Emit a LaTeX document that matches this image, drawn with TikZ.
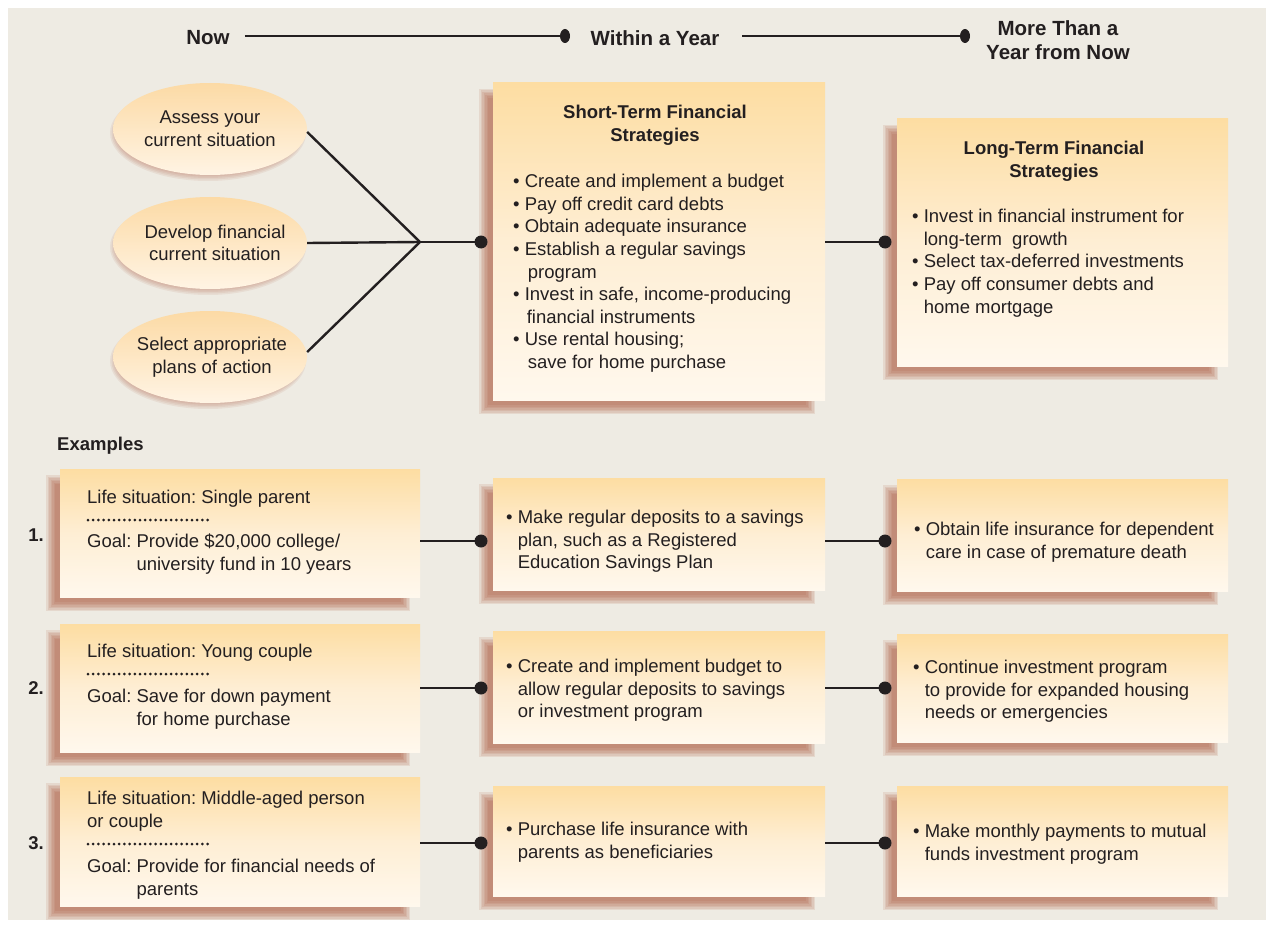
\documentclass[tikz,border=0pt]{standalone}
\usepackage{fontspec}
\setmainfont{Liberation Sans}
\usetikzlibrary{shapes.geometric,fit}
\frenchspacing
\definecolor{bg}{RGB}{238,235,227}
\definecolor{boxtop}{RGB}{253,221,162}
\definecolor{boxmid}{RGB}{254,238,212}
\definecolor{boxbot}{RGB}{255,248,237}
\definecolor{elltop}{RGB}{252,218,165}
\definecolor{ellbot}{RGB}{255,244,228}
\definecolor{shadowc}{RGB}{170,80,52}
\definecolor{ink}{RGB}{35,31,32}
\tikzset{
  box/.style={rectangle, inner sep=0pt, draw=none, top color=boxtop, bottom color=boxbot, middle color=boxmid},
  ell/.style={ellipse, inner sep=0pt, draw=none, minimum width=194pt, minimum height=92pt,
    top color=elltop, bottom color=ellbot},
  etxt/.style={font=\fontsize{18.5}{22.6}\selectfont, text=ink, inner sep=0pt, align=center},
  txt/.style={font=\fontsize{18.5}{22.6}\selectfont, text=ink, inner sep=0pt, align=left, anchor=north west},
  ttl/.style={font=\fontsize{18.5}{22.6}\selectfont\bfseries, text=ink, inner sep=0pt, align=center, anchor=north},
  hdr/.style={font=\fontsize{20.5}{24}\selectfont\bfseries, text=ink, inner sep=0pt, align=center},
  conn/.style={line width=2.4pt, draw=ink},
  dotrow/.style={line width=3pt, draw=ink, dash pattern=on 0pt off 5.2pt, line cap=round},
}
\newcommand\shbox[5]{%
  \foreach \i in {0,1.5,...,9}{\fill[shadowc,opacity=0.12] ({#2-14+\i},{#3+6+\i}) rectangle ({#4-10-\i},{#5+14-\i});}
  \coordinate (#1-nw) at (#2,#3); \coordinate (#1-se) at (#4,#5);
  \node[box, fit=(#1-nw)(#1-se)] (#1) {};
}
\newcommand\shell[5]{%
  \foreach \i in {0,1.5,...,6}{\fill[shadowc,opacity=0.09] ({#2-2},{#3+4}) ellipse [x radius={97pt+1pt-\i pt}, y radius={46pt+2pt-\i pt}];}
  \node[ell] (#1) at (#2,#3) {};
  \node[etxt] (#1t) at (#4,#3) {#5};
}
\newcommand\ind{\hphantom{\textbullet\ }}
\newcommand\gind{\hphantom{Goal: }}
\begin{document}
\begin{tikzpicture}[x=1pt,y=-1pt]
\useasboundingbox (0,0) rectangle (1266,928);
\fill[white] (0,0) rectangle (1266,928);
\fill[bg] (8,8) rectangle (1266,920);

% header
\node[hdr] (now) at (208,38) {Now};
\node[hdr] (wy) at (655,38) {Within a Year};
\node[hdr] (mty) at (1058,40) {More Than a\\Year from Now};
\coordinate (h1) at (565,36);
\coordinate (h2) at (965,36);
\draw[conn] ([xshift=15pt]now.east |- h1) -- (h1);
\draw[conn] ([xshift=23pt]wy.east |- h2) -- (h2);
\fill[ink] (h1) ellipse [x radius=5pt, y radius=7pt];
\fill[ink] (h2) ellipse [x radius=5pt, y radius=7pt];

% ellipses
\shell{e1}{210}{129}{210}{Assess your\\current situation}
\shell{e2}{210}{243}{215}{Develop financial\\current situation}
\shell{e3}{210}{357}{212}{Select appropriate\\plans of action}

% strategy boxes
\shbox{st}{493}{83}{825}{400}
\shbox{lt}{897}{119}{1228}{366}

\node[ttl] (sttl) at (655,105) {Short-Term Financial\\Strategies};
\node[txt] (stx) at (513,174) {\textbullet\ Create and implement a budget\\
\textbullet\ Pay off credit card debts\\
\textbullet\ Obtain adequate insurance\\
\textbullet\ Establish a regular savings\\
\ind\hspace*{3pt}program\\
\textbullet\ Invest in safe, income-producing\\
\ind\hspace*{2pt}financial instruments\\
\textbullet\ Use rental housing;\\
\ind\hspace*{3pt}save for home purchase};

\node[ttl] (lttl) at (1054,141) {Long-Term Financial\\Strategies};
\node[txt] (ltx) at (912,209) {\textbullet\ Invest in financial instrument for\\
\ind long-term\ \ growth\\
\textbullet\ Select tax-deferred investments\\
\textbullet\ Pay off consumer debts and\\
\ind home mortgage};

% junction
\coordinate (j) at (420,242);
\coordinate (stin) at (481,242);
\coordinate (ltin) at (885,242);
\draw[conn] ([yshift=-3pt]e1.east) -- (j);
\draw[conn] (e2.east) -- (j);
\draw[conn] ([yshift=5pt]e3.east) -- (j);
\draw[conn] (j) -- (stin);
\draw[conn] (st.east |- ltin) -- (ltin);
\fill[ink] (stin) circle [radius=6.5pt];
\fill[ink] (ltin) circle [radius=6.5pt];

% examples
\node[font=\fontsize{18.5}{22.6}\selectfont\bfseries, text=ink, inner sep=0pt, anchor=west] (ex) at (57,446) {Examples};
\node[font=\fontsize{18.5}{22.6}\selectfont\bfseries, text=ink, inner sep=0pt] (n1) at (36,535) {1.};
\node[font=\fontsize{18.5}{22.6}\selectfont\bfseries, text=ink, inner sep=0pt] (n2) at (36,688) {2.};
\node[font=\fontsize{18.5}{22.6}\selectfont\bfseries, text=ink, inner sep=0pt] (n3) at (36,843) {3.};

% row 1
\shbox{L1}{60}{469}{420}{597}
\shbox{M1}{493}{478}{825}{590}
\shbox{R1}{897}{479}{1228}{591}
\node[txt] (L1a) at (87,490) {Life situation: Single parent};
\draw[dotrow] (88,520) -- (209,520);
\node[txt] (L1b) at (87,534) {Goal: Provide \$20,000 college/\\\gind university fund in 10 years};
\node[txt] (M1t) at (506,510) {\textbullet\ Make regular deposits to a savings\\\ind plan, such as a Registered\\\ind Education Savings Plan};
\node[txt] (R1t) at (914,522) {\textbullet\ Obtain life insurance for dependent\\\ind care in case of premature death};
\coordinate (m1in) at (481,541);
\coordinate (r1in) at (885,541);
\draw[conn] (L1.east |- m1in) -- (m1in);
\draw[conn] (M1.east |- r1in) -- (r1in);
\fill[ink] (m1in) circle [radius=6.5pt];
\fill[ink] (r1in) circle [radius=6.5pt];

% row 2
\shbox{L2}{60}{624}{420}{752}
\shbox{M2}{493}{631}{825}{743}
\shbox{R2}{897}{634}{1228}{742}
\node[txt] (L2a) at (87,644) {Life situation: Young couple};
\draw[dotrow] (88,674) -- (209,674);
\node[txt] (L2b) at (87,689) {Goal: Save for down payment\\\gind for home purchase};
\node[txt] (M2t) at (506,659) {\textbullet\ Create and implement budget to\\\ind allow regular deposits to savings\\\ind or investment program};
\node[txt] (R2t) at (913,660) {\textbullet\ Continue investment program\\\ind to provide for expanded housing\\\ind needs or emergencies};
\coordinate (m2in) at (481,688);
\coordinate (r2in) at (885,688);
\draw[conn] (L2.east |- m2in) -- (m2in);
\draw[conn] (M2.east |- r2in) -- (r2in);
\fill[ink] (m2in) circle [radius=6.5pt];
\fill[ink] (r2in) circle [radius=6.5pt];

% row 3
\shbox{L3}{60}{777}{420}{906}
\shbox{M3}{493}{786}{825}{896}
\shbox{R3}{897}{786}{1228}{896}
\node[txt] (L3a) at (87,791) {Life situation: Middle-aged person\\or couple};
\draw[dotrow] (88,844) -- (209,844);
\node[txt] (L3b) at (87,859) {Goal: Provide for financial needs of\\\gind parents};
\node[txt] (M3t) at (506,822) {\textbullet\ Purchase life insurance with\\\ind parents as beneficiaries};
\node[txt] (R3t) at (913,824) {\textbullet\ Make monthly payments to mutual\\\ind funds investment program};
\coordinate (m3in) at (481,843);
\coordinate (r3in) at (885,843);
\draw[conn] (L3.east |- m3in) -- (m3in);
\draw[conn] (M3.east |- r3in) -- (r3in);
\fill[ink] (m3in) circle [radius=6.5pt];
\fill[ink] (r3in) circle [radius=6.5pt];
\end{tikzpicture}
\end{document}
